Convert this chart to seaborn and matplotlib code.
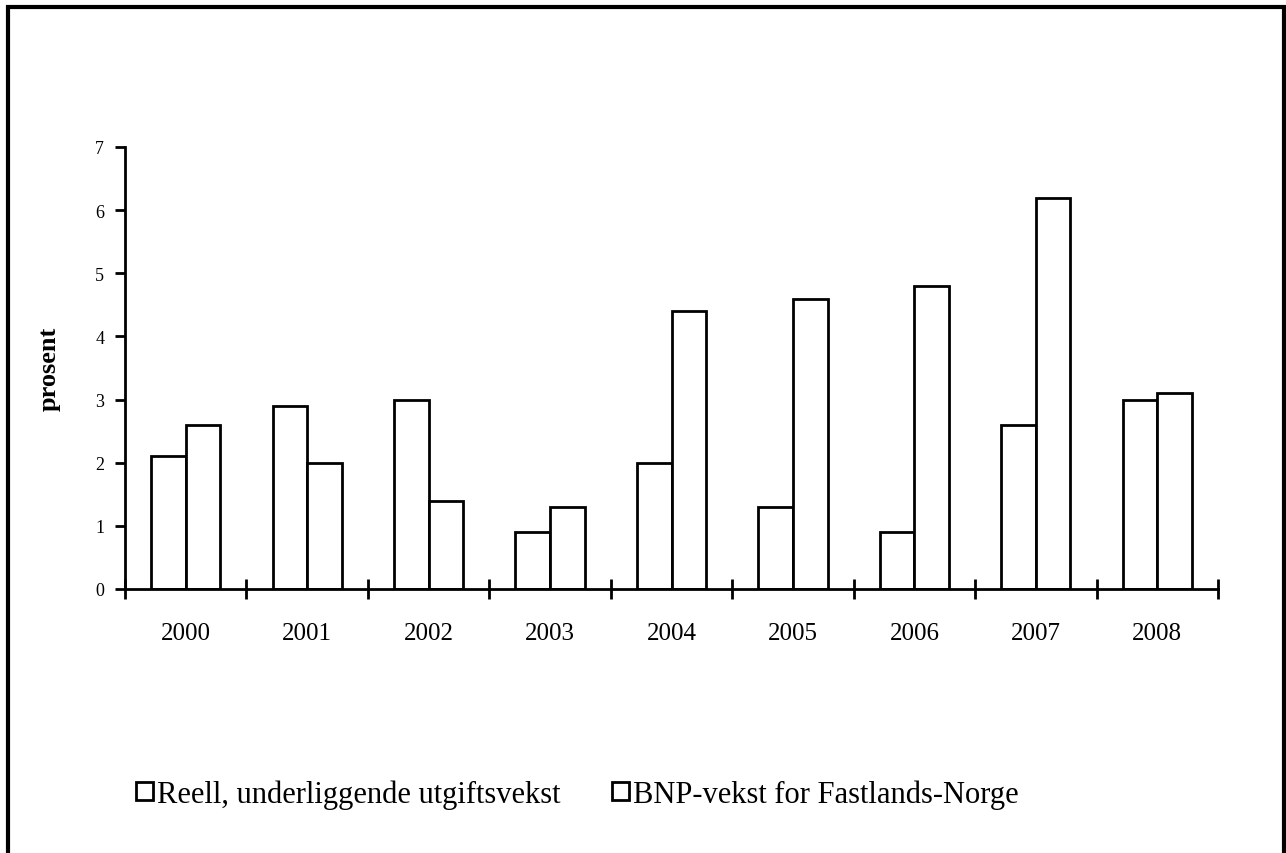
import pandas as pd
import matplotlib.pyplot as plt
import seaborn as sns
from matplotlib.patches import Rectangle, Patch

years = ['2000', '2001', '2002', '2003', '2004', '2005', '2006', '2007', '2008']
reell = [2.1, 2.9, 3.0, 0.9, 2.0, 1.3, 0.9, 2.6, 3.0]
bnp = [2.6, 2.0, 1.4, 1.3, 4.4, 4.6, 4.8, 6.2, 3.1]
series = ['Reell, underliggende utgiftsvekst', 'BNP-vekst for Fastlands-Norge']

df = pd.DataFrame({
    'år': years * 2,
    'verdi': reell + bnp,
    'serie': [series[0]] * len(years) + [series[1]] * len(years),
})

sns.set_style('white')
plt.rcParams['font.family'] = ['Liberation Serif', 'DejaVu Serif']
plt.rcParams['text.color'] = 'black'
plt.rcParams['axes.labelcolor'] = 'black'
plt.rcParams['xtick.color'] = 'black'
plt.rcParams['ytick.color'] = 'black'

fig = plt.figure(figsize=(12.86, 8.54), dpi=100)
ax = fig.add_axes([125 / 1286, 1 - 590 / 854, 1093 / 1286, 442 / 854])

sns.barplot(data=df, x='år', y='verdi', hue='serie', palette=['white', 'white'],
            edgecolor='black', linewidth=2, width=0.57, saturation=1, ax=ax, legend=False)

ax.set_xlim(-0.5, len(years) - 0.5)
ax.set_ylim(0, 7)
ax.set_yticks(range(0, 8))
ax.set_xlabel('')
ax.set_ylabel('prosent', fontsize=19, fontweight='bold', labelpad=25)

for side in ['top', 'right']:
    ax.spines[side].set_visible(False)
for side in ['left', 'bottom']:
    ax.spines[side].set_linewidth(2)
    ax.spines[side].set_color('black')

ax.tick_params(axis='y', direction='out', length=7, width=2, labelsize=13, pad=8, left=True)
ax.tick_params(axis='x', which='major', length=0, labelsize=18, pad=24)
ax.set_xticks([i - 0.5 for i in range(len(years) + 1)], minor=True)
ax.tick_params(axis='x', which='minor', direction='inout', length=14, width=2, bottom=True)

handles = [Patch(facecolor='white', edgecolor='black', linewidth=2, label=s) for s in series]
fig.legend(handles=handles, loc='center left', bbox_to_anchor=(124 / 1286, 1 - 795 / 854),
           ncol=2, frameon=False, fontsize=22, handlelength=0.55, handleheight=0.55,
           handletextpad=0.12, columnspacing=1.7, borderaxespad=0)

fig.patches.append(Rectangle((8 / 1286, -0.02), 1276 / 1286, 1.02 - 8 / 854,
                             transform=fig.transFigure, fill=False,
                             edgecolor='black', linewidth=3))

plt.savefig('out.png', dpi=100)
